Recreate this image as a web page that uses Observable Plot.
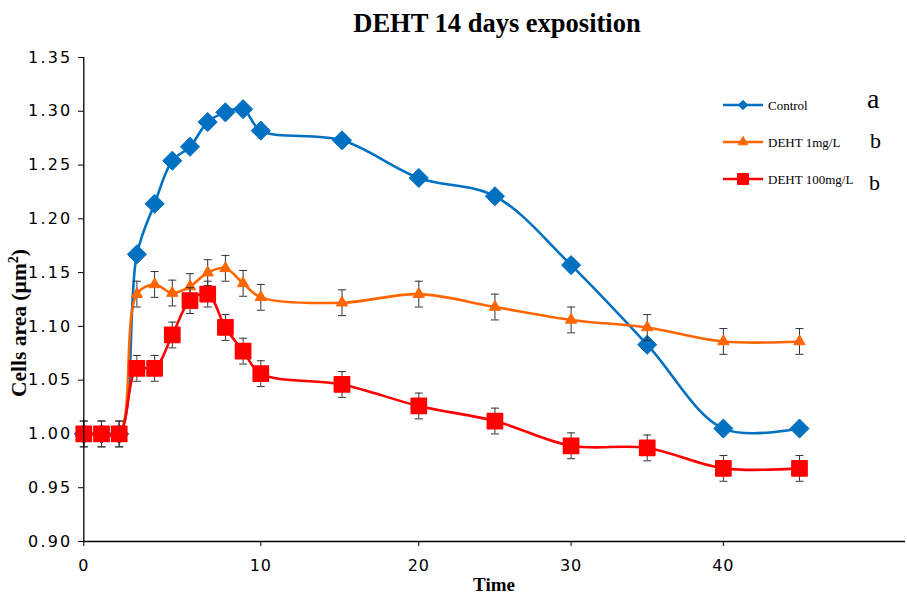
<!DOCTYPE html>
<html>
<head>
<meta charset="utf-8">
<script src="https://cdn.jsdelivr.net/npm/d3@7"></script>
<script src="https://cdn.jsdelivr.net/npm/@observablehq/plot@0.6"></script>
<style>
  html, body { margin: 0; padding: 0; background: #fff; }
  #wrap { position: relative; width: 907px; height: 596px; }
  #wrap svg.plot { position: absolute; left: 0; top: 0; }
  #legend { position: absolute; left: 0; top: 0; pointer-events: none; }
</style>
</head>
<body>
<div id="wrap"></div>
<script>
// ---- data ----
const times   = [0, 1, 2, 3, 4, 5, 6, 7, 8, 9, 10, 15, 20, 25, 30, 35, 40, 45];
const control = [1.000, 1.000, 1.000, 1.167, 1.214, 1.254, 1.267, 1.290, 1.299, 1.302, 1.282, 1.273, 1.238, 1.221, 1.157, 1.083, 1.005, 1.005];
const deht1   = [1.000, 1.000, 1.000, 1.130, 1.139, 1.131, 1.137, 1.150, 1.154, 1.140, 1.127, 1.122, 1.130, 1.118, 1.106, 1.099, 1.086, 1.086];
const err1    = [0.012, 0.012, 0.012, 0.012, 0.012, 0.012, 0.012, 0.012, 0.012, 0.012, 0.012, 0.012, 0.012, 0.012, 0.012, 0.012, 0.012, 0.012];
const deht100 = [1.000, 1.000, 1.000, 1.061, 1.061, 1.092, 1.124, 1.130, 1.099, 1.077, 1.056, 1.046, 1.026, 1.012, 0.989, 0.987, 0.968, 0.968];
const err100  = [0.012, 0.012, 0.012, 0.012, 0.012, 0.012, 0.012, 0.012, 0.012, 0.012, 0.012, 0.012, 0.012, 0.012, 0.012, 0.012, 0.012, 0.012];
const seriesNames = ["Control", "DEHT 1mg/L", "DEHT 100mg/L"];
const seriesLetters = ["a", "b", "b"];
const xTicks = [0, 10, 20, 30, 40];
const yTicks = [0.90, 0.95, 1.00, 1.05, 1.10, 1.15, 1.20, 1.25, 1.30, 1.35];
const titleText = "DEHT 14 days exposition";
const xLabel = "Time";

// ---- styles ----
const BLUE = "#0070C0", ORANGE = "#FF6600", RED = "#FF0000", BAR = "#333333";

const rows = (vals, errs) => times.map((t, i) => ({t, v: vals[i], e: errs ? errs[i] : 0}));
const cData = rows(control);
const oData = rows(deht1, err1);
const rData = rows(deht100, err100);

const cap = {draw(ctx, size) { const r = Math.sqrt(size / Math.PI); ctx.moveTo(-r, 0); ctx.lineTo(r, 0); }};

function errMarks(data) {
  return [
    Plot.ruleX(data, {x: "t", y1: d => d.v - d.e, y2: d => d.v + d.e, stroke: BAR, strokeWidth: 1}),
    Plot.dot(data, {x: "t", y: d => d.v - d.e, symbol: cap, r: 4, stroke: BAR, strokeWidth: 1, fill: "none"}),
    Plot.dot(data, {x: "t", y: d => d.v + d.e, symbol: cap, r: 4, stroke: BAR, strokeWidth: 1, fill: "none"})
  ];
}

const chart = Plot.plot({
  width: 907,
  height: 596,
  marginTop: 57,
  marginBottom: 55,
  marginLeft: 83,
  marginRight: 2,
  style: {fontFamily: "'DejaVu Sans', Verdana, sans-serif", fontSize: "16px", color: "#000", background: "#fff"},
  x: {type: "linear", domain: [0, 10, 15, 20, 45], range: [83.3, 260.3, 341.5, 418.3, 799], ticks: xTicks, tickSize: 5, tickPadding: 13, label: null},
  y: {domain: [0.90, 1.35], ticks: yTicks, tickFormat: ".2f", tickSize: 5, tickPadding: 6, label: null},
  marks: [
    Plot.line(cData, {x: "t", y: "v", stroke: BLUE, strokeWidth: 2.6, curve: "catmull-rom"}),
    Plot.dot(cData, {x: "t", y: "v", symbol: "diamond2", r: 8.6, fill: BLUE, stroke: BLUE, strokeWidth: 1}),
    Plot.line(oData, {x: "t", y: "v", stroke: ORANGE, strokeWidth: 2.6, curve: "catmull-rom"}),
    ...errMarks(oData),
    Plot.dot(oData, {x: "t", y: "v", symbol: "triangle", r: 4.2, fill: ORANGE, stroke: ORANGE, strokeWidth: 1}),
    Plot.line(rData, {x: "t", y: "v", stroke: RED, strokeWidth: 2.6, curve: "catmull-rom"}),
    ...errMarks(rData),
    Plot.dot(rData, {x: "t", y: "v", symbol: "square", r: 8.6, fill: RED, stroke: RED, strokeWidth: 1.5, strokeLinejoin: "round"}),
    Plot.ruleX([0], {stroke: "#000", strokeWidth: 1.3}),
    Plot.ruleY([0.90], {stroke: "#000", strokeWidth: 1.3})
  ]
});
chart.classList.add("plot");
document.getElementById("wrap").appendChild(chart);

const svg = d3.select(chart);
svg.selectAll("[aria-label='x-axis tick label'] text").style("letter-spacing", "1px");
svg.selectAll("[aria-label='y-axis tick label'] text").style("letter-spacing", "2.2px");

// titles
svg.append("text").attr("x", 497).attr("y", 32).attr("text-anchor", "middle")
  .style("font-family", "'Liberation Serif', 'Times New Roman', serif").style("font-weight", "bold").style("font-size", "26.5px")
  .text(titleText);
svg.append("text").attr("x", 494).attr("y", 591).attr("text-anchor", "middle")
  .style("font-family", "'Liberation Serif', 'Times New Roman', serif").style("font-weight", "bold").style("font-size", "19px")
  .text(xLabel);
const yl = svg.append("text").attr("transform", "translate(26,323) rotate(-90)").attr("text-anchor", "middle")
  .style("font-family", "'Liberation Serif', 'Times New Roman', serif").style("font-weight", "bold").style("font-size", "21.5px");
yl.append("tspan").text("Cells area (\u00b5m");
yl.append("tspan").attr("dy", -8).style("font-size", "14px").text("2");
yl.append("tspan").attr("dy", 8).text(")");

// legend (overlay)
const leg = d3.select("#wrap").append("svg").attr("id", "legend").attr("width", 907).attr("height", 596);
const legRows = [
  {name: seriesNames[0], letter: seriesLetters[0], color: BLUE, sym: d3.symbolDiamond2, size: 55, y: 105, ly: 108, lx: 867, lsize: 28},
  {name: seriesNames[1], letter: seriesLetters[1], color: ORANGE, sym: d3.symbolTriangle, size: 40, y: 142, ly: 148, lx: 870, lsize: 22},
  {name: seriesNames[2], letter: seriesLetters[2], color: RED, sym: d3.symbolSquare, size: 120, y: 179, ly: 190, lx: 869, lsize: 22}
];
legRows.forEach(r => {
  const g = leg.append("g");
  g.append("line").attr("x1", 723).attr("x2", 763).attr("y1", r.y).attr("y2", r.y).attr("stroke", r.color).attr("stroke-width", 2.6);
  g.append("path").attr("transform", `translate(743,${r.y})`).attr("d", d3.symbol(r.sym, r.size)())
    .attr("fill", r.color).attr("stroke", r.color).attr("stroke-linejoin", "round");
  g.append("text").attr("x", 768).attr("y", r.y + 4.5)
    .style("font-family", "'Liberation Serif', 'Times New Roman', serif").style("font-size", "13px").text(r.name);
  g.append("text").attr("x", r.lx).attr("y", r.ly)
    .style("font-family", "'Liberation Serif', 'Times New Roman', serif").style("font-size", r.lsize + "px").text(r.letter);
});
</script>
</body>
</html>
